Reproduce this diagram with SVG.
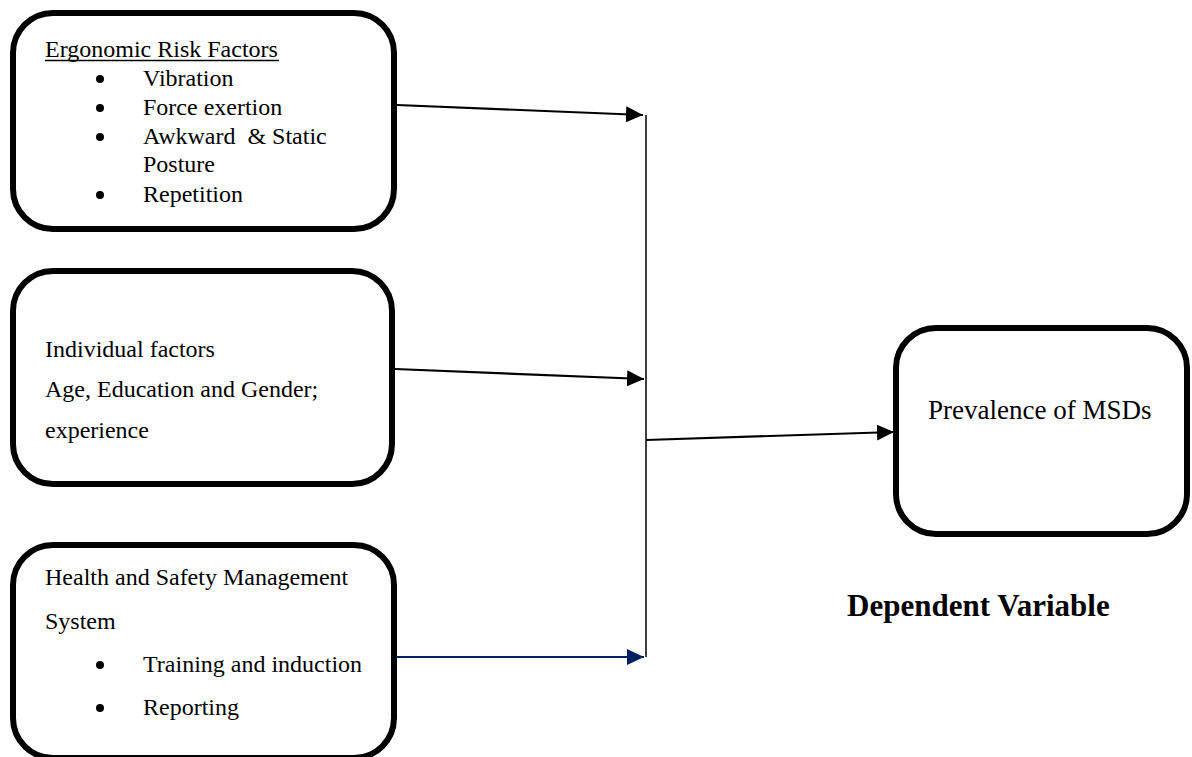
<svg xmlns="http://www.w3.org/2000/svg" width="1192" height="757" viewBox="0 0 1192 757">
<style>
.box{fill:#fff;stroke:#000;stroke-width:6}
.t{font-family:"Liberation Serif","Times New Roman",serif;font-size:24px;fill:#000}
.big{font-family:"Liberation Serif","Times New Roman",serif;font-size:27px;fill:#000}
.bold{font-family:"Liberation Serif","Times New Roman",serif;font-size:31px;font-weight:bold;fill:#000}
.c{fill:none;stroke:#000;stroke-width:2.2}
.nav{fill:none;stroke:#002060;stroke-width:2.2}
</style>
<defs>
<marker id="ah" markerUnits="userSpaceOnUse" markerWidth="18" markerHeight="16" refX="17" refY="8" orient="auto">
<path d="M0,0 L17,8 L0,16 z" fill="#000"/>
</marker>
<marker id="ahn" markerUnits="userSpaceOnUse" markerWidth="18" markerHeight="16" refX="17" refY="8" orient="auto">
<path d="M0,0 L17,8 L0,16 z" fill="#002060"/>
</marker>
</defs>
<rect width="1192" height="757" fill="#fff"/>
<g id="ergonomic">
<rect class="box" x="13" y="13" width="381" height="216" rx="40"/>
<text class="t" x="45" y="57">Ergonomic Risk Factors</text>
<line x1="45" y1="60.5" x2="279" y2="60.5" stroke="#000" stroke-width="1.5"/>
<circle cx="100" cy="79" r="4"/><text class="t" x="143" y="86">Vibration</text>
<circle cx="100" cy="108" r="4"/><text class="t" x="143" y="115">Force exertion</text>
<circle cx="100" cy="137" r="4"/><text class="t" x="143" y="144" xml:space="preserve">Awkward  &amp; Static</text>
<text class="t" x="143" y="172">Posture</text>
<circle cx="100" cy="195" r="4"/><text class="t" x="143" y="202">Repetition</text>
</g>
<g id="individual">
<rect class="box" x="13" y="271" width="379" height="213" rx="40"/>
<text class="t" x="45" y="357">Individual factors</text>
<text class="t" x="45" y="397">Age, Education and Gender;</text>
<text class="t" x="45" y="438">experience</text>
</g>
<g id="hsms">
<rect class="box" x="13" y="545" width="381" height="213" rx="40"/>
<text class="t" x="45" y="585">Health and Safety Management</text>
<text class="t" x="45" y="629">System</text>
<circle cx="100" cy="665" r="4"/><text class="t" x="143" y="672">Training and induction</text>
<circle cx="100" cy="708" r="4"/><text class="t" x="143" y="715">Reporting</text>
</g>
<g id="msd">
<rect class="box" x="896" y="328" width="291" height="206" rx="40"/>
<text class="big" x="928" y="419">Prevalence of MSDs</text>
</g>
<g id="label">
<text class="bold" x="847" y="616">Dependent Variable</text>
</g>
<g id="connectors">
<line class="c" x1="397" y1="105" x2="643" y2="115" marker-end="url(#ah)"/>
<line class="c" x1="395" y1="369" x2="644" y2="379" marker-end="url(#ah)"/>
<line class="nav" x1="396" y1="657" x2="644" y2="657" marker-end="url(#ahn)"/>
<line x1="646" y1="115" x2="646" y2="657" stroke="#000" stroke-width="1.5"/>
<line class="c" x1="646" y1="440" x2="894" y2="432" marker-end="url(#ah)"/>
</g>
</svg>
